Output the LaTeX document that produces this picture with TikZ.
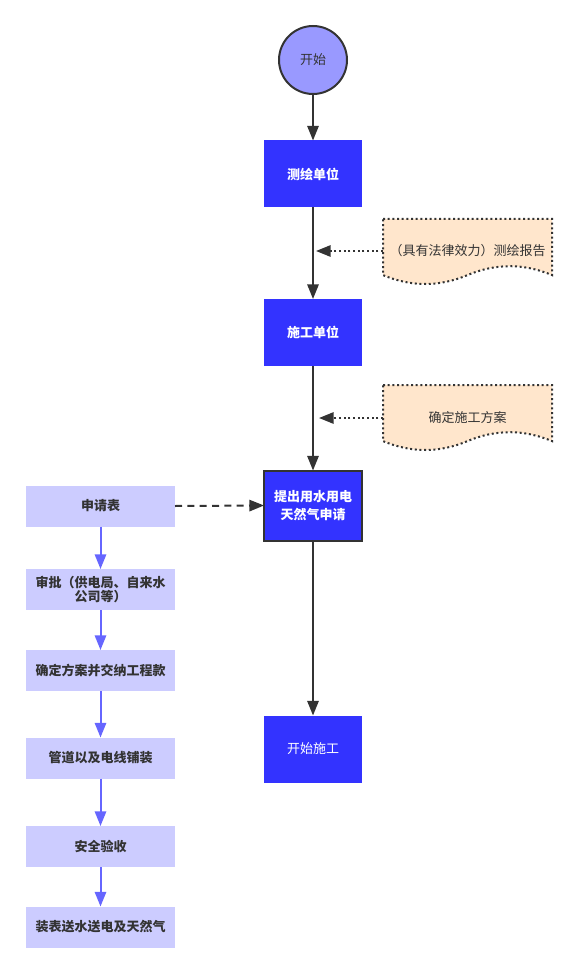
\documentclass[tikz,border=0pt]{standalone}
\usepackage{fontspec}
\setmainfont{Noto Sans CJK SC}
\usetikzlibrary{arrows.meta}
\definecolor{mainblue}{HTML}{3333FF}
\definecolor{circfill}{HTML}{9999FF}
\definecolor{leftfill}{HTML}{CCCCFF}
\definecolor{leftarrow}{HTML}{6666FF}
\definecolor{dark}{HTML}{333333}
\definecolor{docfill}{HTML}{FFE6CC}
\tikzset{
  mainbox/.style={rectangle, fill=mainblue, inner sep=0pt, outer sep=0pt,
    minimum width=73.5pt, minimum height=50.25pt, text=white, font=\fontsize{9.75pt}{13pt}\selectfont\bfseries, align=center},
  leftbox/.style={rectangle, fill=leftfill, inner sep=0pt, outer sep=0pt,
    minimum width=111.75pt, minimum height=30.75pt, text=dark, font=\fontsize{9.75pt}{10.75pt}\selectfont\bfseries, align=center},
  doctext/.style={inner sep=0pt, outer sep=0pt, minimum width=126.75pt, text=dark, font=\fontsize{9.75pt}{12pt}\selectfont},
  docshape/.style={draw=dark, fill=docfill, line width=1.5pt, dash pattern=on 1.5pt off 2pt},
  tipA/.style={-{Triangle[length=11pt,width=8.5pt]}},
  mainarrow/.style={draw=dark, line width=1.5pt, tipA},
  leftarr/.style={draw=leftarrow, line width=1.5pt, tipA},
  dotarrow/.style={draw=dark, line width=1.5pt, dash pattern=on 1.5pt off 2pt, tipA},
  dasharrow/.style={draw=dark, line width=1.5pt, dash pattern=on 5.25pt off 4pt, tipA}
}
\newcommand{\docpath}{%
  (0,0) -- (169,0) -- (169,56.1)
  .. controls (140.83,44.23) and (112.67,44.23) .. (84.5,56.1)
  .. controls (56.33,67.97) and (28.17,67.97) .. (0,56.1) -- cycle}
\begin{document}
\begin{tikzpicture}[x=0.75pt,y=-0.75pt]
\useasboundingbox (0,0) rectangle (577,973);
% document shapes
\begin{scope}[shift={(383,219)}]
  \path[docshape] \docpath;
\end{scope}
\begin{scope}[shift={(383,385)}]
  \path[docshape] \docpath;
\end{scope}
% main column
\node[circle, draw=dark, line width=1.5pt, fill=circfill, minimum size=51pt, inner sep=0pt,
  text=dark, font=\fontsize{9.75pt}{12pt}\selectfont] (start) at (313,60) {开始};
\node[mainbox] (b1) at (313,174) {测绘单位};
\node[mainbox] (b2) at (313,332.5) {施工单位};
\node[mainbox, draw=dark, line width=1.5pt, minimum height=52.5pt] (b3) at (313,505.5) {提出用水用电\\天然气申请};
\node[mainbox, font=\fontsize{9.75pt}{13pt}\selectfont] (b4) at (313,749) {开始施工};
% doc texts
\node[doctext] (d1) at (467.5,251) {（具有法律效力）测绘报告};
\node[doctext] (d2) at (467.5,418) {确定施工方案};
\coordinate (e1) at (316,251);
\coordinate (e2) at (319,418);
% left column
\node[leftbox] (l1) at (100.5,506) {申请表};
\node[leftbox] (l2) at (100.5,589.5) {审批（供电局、自来水\\公司等）};
\node[leftbox] (l3) at (100.5,670.5) {确定方案并交纳工程款};
\node[leftbox] (l4) at (100.5,758) {管道以及电线铺装};
\node[leftbox] (l5) at (100.5,846.5) {安全验收};
\node[leftbox] (l6) at (100.5,927) {装表送水送电及天然气};
% connectors
\draw[mainarrow] (start) -- (b1);
\draw[mainarrow] (b1) -- (b2);
\draw[mainarrow] (b2) -- (b3);
\draw[mainarrow] (b3) -- (b4);
\draw[dotarrow] (d1.west) -- (e1);
\draw[dotarrow] (d2.west) -- (e2);
\draw[dasharrow] (l1.east) -- (b3.west);
\draw[leftarr] (l1) -- (l2);
\draw[leftarr] (l2) -- (l3);
\draw[leftarr] (l3) -- (l4);
\draw[leftarr] (l4) -- (l5);
\draw[leftarr] (l5) -- (l6);
\end{tikzpicture}
\end{document}
